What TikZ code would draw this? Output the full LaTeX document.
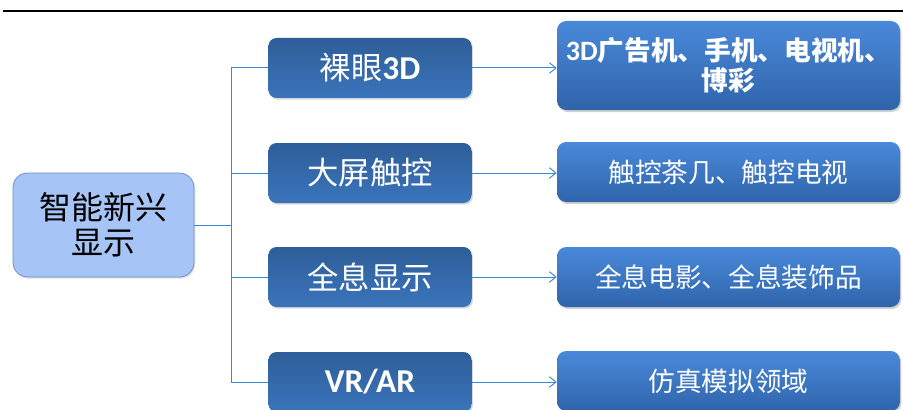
\documentclass[tikz,border=0pt]{standalone}
\usepackage{fontspec}
\setmainfont{Noto Sans CJK SC}
\newfontfamily\latb{Carlito}[BoldFont={Carlito Bold}]
\usetikzlibrary{arrows.meta,shadows}
\definecolor{rootfill}{HTML}{A6C4F5}
\definecolor{rootdraw}{HTML}{7090C8}
\definecolor{midtop}{HTML}{2E5E99}
\definecolor{midbot}{HTML}{3B74BB}
\definecolor{rtop}{HTML}{4A89D9}
\definecolor{rbot}{HTML}{2F64AB}
\definecolor{conn}{HTML}{3A88D2}
\tikzset{
  rootbox/.style={draw=rootdraw, line width=0.6pt, fill=rootfill, rounded corners=11pt,
    minimum width=135.75pt, minimum height=78pt, align=center, inner sep=0pt,
    font=\fontsize{24}{26.5}\selectfont, text=black,
    drop shadow={opacity=0.25, shadow xshift=1pt, shadow yshift=-1.2pt}},
  midbox/.style={draw=none, rounded corners=6pt, top color=midtop, middle color=midtop, bottom color=midbot,
    minimum width=152.25pt, minimum height=45pt, inner sep=0pt, text=white,
    font=\fontsize{23.5}{26}\selectfont,
    drop shadow={opacity=0.3, shadow xshift=1pt, shadow yshift=-1.2pt}},
  rbox/.style={draw=none, rounded corners=7pt, top color=rtop, bottom color=rbot,
    minimum width=257.25pt, minimum height=45pt, inner sep=0pt, text=white, align=center,
    font=\fontsize{20}{22.5}\selectfont,
    drop shadow={opacity=0.35, shadow xshift=1pt, shadow yshift=-1.5pt}},
  link/.style={draw=conn, line width=0.75pt},
  arr/.style={draw=conn, line width=0.75pt, -{Straight Barb[length=5pt,width=8pt,line width=0.7pt]}},
}
\begin{document}
\begin{tikzpicture}[x=0.75pt,y=-0.75pt]
\clip (0,0) rectangle (903,410);
\useasboundingbox (0,0) rectangle (903,410);
\fill[white] (0,0) rectangle (903,410);
\coordinate (tl) at (3,11);
\coordinate (tr) at (903,11);
\draw[line width=1.8pt, black] (tl) -- (tr);

\node[rootbox] (root) at (103.5,225) {智能新兴\\显示};

\node[midbox] (m1) at (370,68) {裸眼{\latb\bfseries\fontsize{25}{26}\selectfont 3D}};
\node[midbox] (m2) at (370,173) {大屏触控};
\node[midbox] (m3) at (370,277) {全息显示};
\node[midbox] (m4) at (370,382) {\latb\bfseries\fontsize{25}{26}\selectfont VR/AR};

\node[rbox, minimum height=66.75pt, font=\fontsize{20}{22.5}\selectfont\bfseries] (r1) at (728.5,65.5) {{\latb\bfseries\fontsize{21}{22.5}\selectfont 3D}广告机、手机、电视机、\\博彩};
\node[rbox] (r2) at (728.5,172) {触控茶几、触控电视};
\node[rbox] (r3) at (728.5,277) {全息电影、全息装饰品};
\node[rbox] (r4) at (728.5,381) {仿真模拟领域};

\coordinate (j) at (231,225);
\draw[link] (root.east) -- (j);
\draw[link] (j) |- (m1.west);
\draw[link] (j) |- (m4.west);
\draw[link] (m2.west -| j) -- (m2.west);
\draw[link] (m3.west -| j) -- (m3.west);

\draw[arr] (m1.east) -- (m1.east -| r1.west);
\draw[arr] (m2.east) -- (m2.east -| r2.west);
\draw[arr] (m3.east) -- (m3.east -| r3.west);
\draw[arr] (m4.east) -- (m4.east -| r4.west);
\end{tikzpicture}
\end{document}
